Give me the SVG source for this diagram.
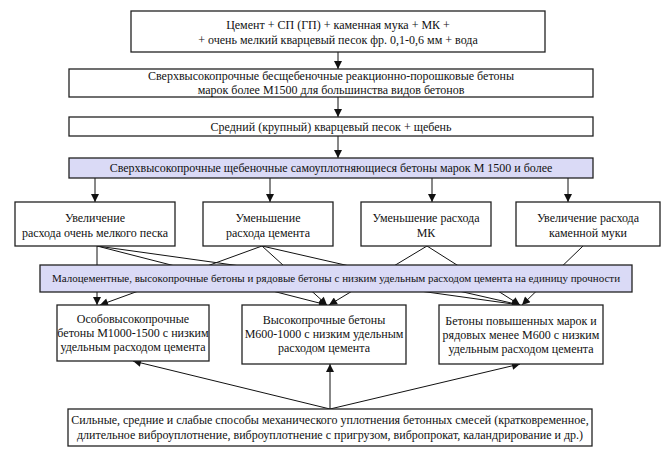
<svg xmlns="http://www.w3.org/2000/svg" width="669" height="454" viewBox="0 0 669 454">
<defs>
<style>
.box{fill:#fff;stroke:#222;stroke-width:1.3}
.blue{fill:#dadaf6;stroke:#222;stroke-width:1.3}
text{font-family:'Liberation Serif', 'Times New Roman', serif;font-size:12px;fill:#111;text-anchor:middle}
.sm{font-size:11px}
.ln{stroke:#111;stroke-width:1;fill:none;marker-end:url(#ah)}
</style>
<marker id="ah" viewBox="0 0 10 10" refX="10" refY="5" markerWidth="10" markerHeight="8" markerUnits="userSpaceOnUse" orient="auto">
<path d="M0,0 L10,5 L0,10 z" fill="#111"/>
</marker>
</defs>
<rect width="669" height="454" fill="#fff"/>
<g id="connectors">
<line class="ln" x1="338" y1="52" x2="338" y2="69"/>
<line class="ln" x1="338" y1="97" x2="338" y2="117"/>
<line class="ln" x1="338" y1="136" x2="338" y2="158"/>
<line class="ln" x1="95" y1="178" x2="95" y2="202"/>
<line class="ln" x1="270" y1="178" x2="270" y2="202"/>
<line class="ln" x1="432" y1="178" x2="432" y2="202"/>
<line class="ln" x1="568" y1="178" x2="568" y2="202"/>
<line class="ln" x1="97" y1="246" x2="97" y2="305"/>
<line class="ln" x1="97" y1="246" x2="327" y2="305"/>
<line class="ln" x1="97" y1="246" x2="520" y2="305"/>
<line class="ln" x1="262" y1="246" x2="100" y2="305"/>
<line class="ln" x1="262" y1="246" x2="327" y2="305"/>
<line class="ln" x1="262" y1="246" x2="520" y2="305"/>
<line class="ln" x1="427" y1="246" x2="329" y2="305"/>
<line class="ln" x1="427" y1="246" x2="520" y2="305"/>
<line class="ln" x1="583" y1="246" x2="522" y2="305"/>
<line class="ln" x1="330" y1="409" x2="133" y2="361"/>
<line class="ln" x1="330" y1="409" x2="330" y2="364"/>
<line class="ln" x1="330" y1="409" x2="520" y2="364"/>
</g>
<g id="n1"><rect class="box" x="131" y="11" width="414" height="41"/>
<text x="338" y="29">Цемент + СП (ГП) + каменная мука + МК +</text>
<text x="338" y="44">+ очень мелкий кварцевый песок фр. 0,1-0,6 мм + вода</text></g>
<g id="n2"><rect class="box" x="69" y="69" width="524" height="28"/>
<text x="331" y="80">Сверхвысокопрочные бесщебеночные реакционно-порошковые бетоны</text>
<text x="331" y="94">марок более М1500 для большинства видов бетонов</text></g>
<g id="n3"><rect class="box" x="69" y="117" width="524" height="19"/>
<text x="331" y="131">Средний (крупный) кварцевый песок + щебень</text></g>
<g id="n4"><rect class="blue" x="69" y="158" width="524" height="20"/>
<text x="331" y="172">Сверхвысокопрочные щебеночные самоуплотняющиеся бетоны марок М 1500 и более</text></g>
<g id="nA"><rect class="box" x="15" y="202" width="160" height="44"/>
<text x="95" y="222">Увеличение</text><text x="95" y="237">расхода очень мелкого песка</text></g>
<g id="nB"><rect class="box" x="203" y="202" width="130" height="44"/>
<text x="268" y="222">Уменьшение</text><text x="268" y="237">расхода цемента</text></g>
<g id="nC"><rect class="box" x="361" y="202" width="130" height="44"/>
<text x="426" y="222">Уменьшение расхода</text><text x="426" y="237">МК</text></g>
<g id="nD"><rect class="box" x="516" y="202" width="144" height="44"/>
<text x="588" y="222">Увеличение расхода</text><text x="588" y="237">каменной муки</text></g>
<g id="n5"><rect class="blue" x="40" y="265" width="592" height="27"/>
<text class="sm" x="336" y="282">Малоцементные, высокопрочные бетоны и рядовые бетоны с низким удельным расходом цемента на единицу прочности</text></g>
<g id="nE"><rect class="box" x="57" y="305" width="152" height="56"/>
<text x="133" y="323">Особовысокопрочные</text><text x="133" y="337">бетоны М1000-1500 с низким</text><text x="133" y="351">удельным расходом цемента</text></g>
<g id="nF"><rect class="box" x="242" y="305" width="164" height="59"/>
<text x="324" y="324">Высокопрочные бетоны</text><text x="324" y="338">М600-1000 с низким удельным</text><text x="324" y="352">расходом цемента</text></g>
<g id="nG"><rect class="box" x="439" y="305" width="164" height="59"/>
<text x="521" y="325">Бетоны повышенных марок и</text><text x="521" y="339">рядовых менее М600 с низким</text><text x="521" y="353">удельным расходом цемента</text></g>
<g id="nH"><rect class="box" x="68" y="409" width="524" height="37"/>
<text x="330" y="424">Сильные, средние и слабые способы механического уплотнения бетонных смесей (кратковременное,</text>
<text x="330" y="439">длительное виброуплотнение, виброуплотнение с пригрузом, вибропрокат, каландрирование и др.)</text></g>
</svg>
